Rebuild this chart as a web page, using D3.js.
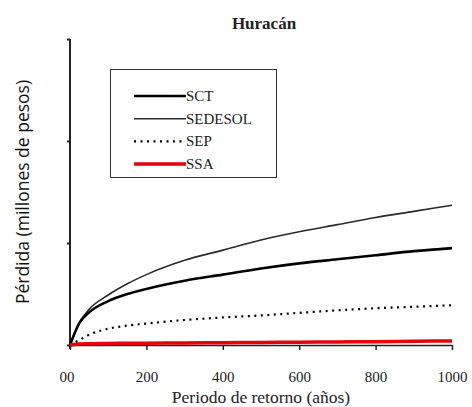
<!DOCTYPE html>
<html>
<head>
<meta charset="utf-8">
<script src="https://cdn.jsdelivr.net/npm/d3@7"></script>
<style>
  html, body { margin: 0; padding: 0; background: #fff; }
  svg { display: block; }
  .serif { font-family: "Liberation Serif", "DejaVu Serif", "Times New Roman", Times, serif; }
</style>
</head>
<body>
<svg id="chart" width="472" height="407"></svg>
<script>
// ---- data ----
const returnPeriods = [0, 25, 50, 100, 150, 200, 300, 400, 500, 600, 700, 800, 900, 1000];
const sct     = [0, 0.22, 0.32, 0.43, 0.50, 0.55, 0.63, 0.69, 0.75, 0.80, 0.84, 0.88, 0.92, 0.95];
const sedesol = [0, 0.22, 0.35, 0.49, 0.60, 0.69, 0.83, 0.93, 1.03, 1.11, 1.18, 1.25, 1.31, 1.37];
const sep     = [0, 0.05, 0.10, 0.16, 0.19, 0.21, 0.245, 0.27, 0.29, 0.315, 0.34, 0.36, 0.375, 0.39];
const ssa     = [0, 0.01, 0.012, 0.015, 0.017, 0.018, 0.02, 0.022, 0.025, 0.028, 0.03, 0.033, 0.036, 0.04];
const seriesNames = ["SCT", "SEDESOL", "SEP", "SSA"];
const xTicks = [0, 200, 400, 600, 800, 1000];
const xTickLabels = ["00", "200", "400", "600", "800", "1000"];
const yTicks = [0, 1, 2, 3];
const title = "Huracán";
const xTitle = "Periodo de retorno (años)";
const yTitle = "Pérdida (millones de pesos)";

// ---- layout ----
const svg = d3.select("#chart");
const x = d3.scaleLinear().domain([0, 1000]).range([70, 452]);
const y = d3.scaleLinear().domain([0, 3]).range([345, 39]);

const styles = {
  SCT:     { stroke: "#000", width: 2.6, dash: null },
  SEDESOL: { stroke: "#2a2a2a", width: 1.6, dash: null },
  SEP:     { stroke: "#000", width: 2.2, dash: "2,4.5" },
  SSA:     { stroke: "#e8000b", width: 3.5, dash: null }
};
const dataBy = { SCT: sct, SEDESOL: sedesol, SEP: sep, SSA: ssa };

svg.append("defs").append("clipPath").attr("id", "lblclip")
  .append("rect").attr("x", 60).attr("y", 350).attr("width", 420).attr("height", 50);

// title
svg.append("text")
  .attr("class", "serif")
  .attr("x", 264).attr("y", 29)
  .attr("text-anchor", "middle")
  .attr("font-weight", "bold")
  .attr("font-size", 17)
  .attr("fill", "#222")
  .text(title);

// x axis
const xAxis = d3.axisBottom(x).tickValues(xTicks).tickSize(5).tickSizeOuter(0)
  .tickFormat((d, i) => xTickLabels[i]);
const gx = svg.append("g").attr("transform", "translate(0,345)").call(xAxis);
gx.attr("font-family", null).attr("font-size", null);
gx.select(".domain").attr("stroke", "#222").attr("stroke-width", 1.5);
gx.selectAll(".tick line").attr("stroke", "#222").attr("stroke-width", 1.5);
gx.selectAll(".tick text")
  .attr("class", "serif")
  .attr("dy", null).attr("y", 37)
  .attr("font-size", 15)
  .attr("fill", "#222");
gx.selectAll(".tick").filter(d => d === 0).select("text").remove();
svg.append("g").attr("clip-path", "url(#lblclip)")
  .append("text")
  .attr("class", "serif")
  .attr("x", x(0) - 3).attr("y", 345 + 37)
  .attr("text-anchor", "middle")
  .attr("font-size", 15)
  .attr("fill", "#222")
  .text(xTickLabels[0]);

// y axis
const yAxis = d3.axisLeft(y).tickValues(yTicks).tickSize(3).tickSizeOuter(0).tickFormat("");
const gy = svg.append("g").attr("transform", "translate(70,0)").call(yAxis);
gy.select(".domain").attr("stroke", "#222").attr("stroke-width", 2)
  .attr("d", `M0,${y(3)}V${y(0) + 4}`);
gy.selectAll(".tick line").attr("stroke", "#222").attr("stroke-width", 2);

// axis titles
svg.append("text")
  .attr("class", "serif")
  .attr("x", 261).attr("y", 403)
  .attr("text-anchor", "middle")
  .attr("font-size", 17.5)
  .attr("fill", "#222")
  .text(xTitle);

svg.append("text")
  .attr("transform", "translate(29,192) rotate(-90)")
  .attr("text-anchor", "middle")
  .attr("font-family", "'Open Sans', sans-serif")
  .attr("font-size", 17.5)
  .attr("fill", "#111")
  .text(yTitle);

// lines
const line = d3.line()
  .x((d, i) => x(returnPeriods[i]))
  .y(d => y(d))
  .curve(d3.curveMonotoneX);

["SEP", "SEDESOL", "SCT", "SSA"].forEach(name => {
  const s = styles[name];
  svg.append("path")
    .datum(dataBy[name])
    .attr("d", line)
    .attr("fill", "none")
    .attr("stroke", s.stroke)
    .attr("stroke-width", s.width)
    .attr("stroke-dasharray", s.dash);
});

// legend
const lg = svg.append("g");
lg.append("rect")
  .attr("x", 110.5).attr("y", 69.5).attr("width", 166).attr("height", 108)
  .attr("fill", "#fff").attr("stroke", "#333").attr("stroke-width", 1);
seriesNames.forEach((name, i) => {
  const s = styles[name];
  const yy = 96 + i * 22.7;
  lg.append("line")
    .attr("x1", 134).attr("x2", 186).attr("y1", yy).attr("y2", yy)
    .attr("stroke", s.stroke).attr("stroke-width", s.width)
    .attr("stroke-dasharray", s.dash);
  lg.append("text")
    .attr("class", "serif")
    .attr("x", 186).attr("y", yy + 5)
    .attr("font-size", 15)
    .attr("fill", "#222")
    .text(name);
});
</script>
</body>
</html>
